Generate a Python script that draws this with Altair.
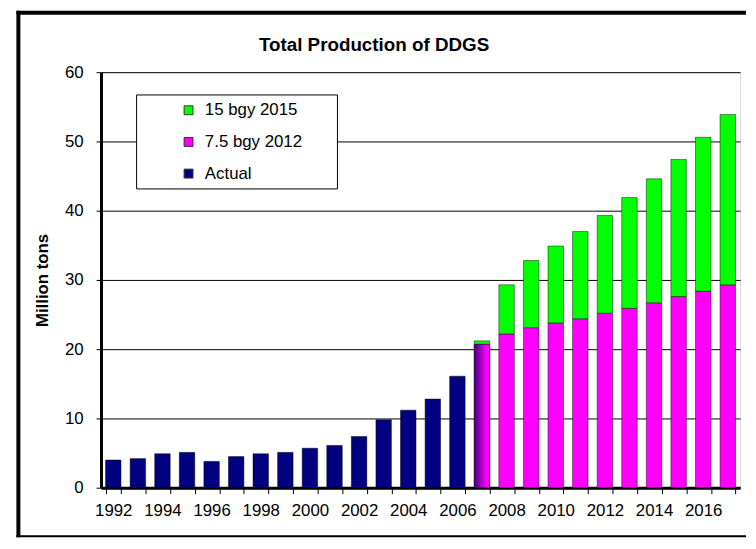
import altair as alt
import pandas as pd

# ---- data ----
actual_years = list(range(1992, 2007))
actual = [4.0, 4.2, 4.9, 5.1, 3.8, 4.5, 4.9, 5.1, 5.7, 6.1, 7.4, 9.8, 11.2, 12.8, 16.1]

proj_years = list(range(2007, 2018))
bgy75 = [20.7, 22.2, 23.1, 23.8, 24.4, 25.2, 25.9, 26.7, 27.6, 28.4, 29.3]
bgy15_total = [21.2, 29.3, 32.8, 34.9, 37.0, 39.3, 41.9, 44.6, 47.4, 50.6, 53.9]

series_names = ["15 bgy 2015", "7.5 bgy 2012", "Actual"]
series_colors = ["#00ff00", "#ff00ff", "#000080"]
y_ticks = [0, 10, 20, 30, 40, 50, 60]

FONT = "Liberation Sans"

rows = []
for yr, v in zip(actual_years, actual):
    rows.append({"year": yr, "series": "Actual", "value": v, "ord": 0})
for yr, m, t in zip(proj_years, bgy75, bgy15_total):
    rows.append({"year": yr, "series": "7.5 bgy 2012", "value": m, "ord": 0})
    rows.append({"year": yr, "series": "15 bgy 2015", "value": round(t - m, 2), "ord": 1})
df = pd.DataFrame(rows)

one = pd.DataFrame({"k": [0]})

x_enc = alt.X(
    "year:O",
    scale=alt.Scale(paddingInner=0.37, paddingOuter=0.185),
    axis=alt.Axis(
        title=None,
        labelAngle=0,
        tickBand="extent",
        labelExpr="datum.value % 2 == 0 ? datum.label : ''",
        labelOverlap=False,
        labelFontSize=17,
        labelFont=FONT,
        labelColor="black",
        labelPadding=9,
        tickSize=6,
        tickColor="black",
        tickWidth=1,
        domainColor="black",
        domainWidth=3,
        grid=False,
    ),
)

y_enc = alt.Y(
    "value:Q",
    stack="zero",
    scale=alt.Scale(domain=[0, 60]),
    axis=alt.Axis(
        values=y_ticks,
        title="Million tons",
        titleFont=FONT,
        titleFontSize=17,
        titleFontWeight="bold",
        titleColor="black",
        titleX=-59,
        titleY=210,
        titleAngle=270,
        titleAlign="center",
        titleBaseline="middle",
        labelFontSize=17,
        labelFont=FONT,
        labelColor="black",
        labelPadding=13,
        tickSize=5,
        tickColor="black",
        domainColor="black",
        domainWidth=3,
        grid=True,
        gridColor="black",
        gridWidth=1,
        gridOpacity=1,
    ),
)

bars = alt.Chart(df).mark_bar(stroke="black", strokeOpacity=0.45, strokeWidth=1).encode(
    x=x_enc,
    y=y_enc,
    color=alt.Color(
        "series:N",
        scale=alt.Scale(domain=series_names, range=series_colors),
        legend=alt.Legend(
            title=None,
            orient="none",
            legendX=80,
            legendY=30,
            padding=0,
            symbolType="square",
            symbolSize=81,
            symbolStrokeColor="#333333",
            symbolStrokeWidth=1,
            labelFont=FONT,
            labelFontSize=17,
            labelColor="black",
            labelOffset=8,
            rowPadding=14,
        ),
    ),
    order=alt.Order("ord:Q", sort="ascending"),
)

grad_df = df[(df["year"] == 2007) & (df["series"] == "7.5 bgy 2012")]
grad = alt.Chart(grad_df).mark_bar(
    color=alt.Gradient(
        gradient="linear",
        stops=[
            alt.GradientStop(offset=0, color="#400080"),
            alt.GradientStop(offset=0.8, color="#ff00ff"),
        ],
        x1=0, x2=1, y1=0, y2=0,
    ),
    stroke="black", strokeOpacity=0.45, strokeWidth=1,
).encode(x=alt.X("year:O"), y=alt.Y("value:Q"))

legend_box = alt.Chart(one).mark_rect(fill="white", stroke="black", strokeWidth=1).encode(
    x=alt.value(36), x2=alt.value(239), y=alt.value(23), y2=alt.value(118)
)

# outer chart frame (left, top, bottom edges; right edge lies outside the picture)
frame_top = alt.Chart(one).mark_rule(color="black", strokeWidth=4).encode(
    x=alt.value(-85.5), x2=alt.value(652), y=alt.value(-60)
)
frame_left = alt.Chart(one).mark_rule(color="black", strokeWidth=4).encode(
    x=alt.value(-83.5), y=alt.value(-62), y2=alt.value(470)
)
frame_bottom = alt.Chart(one).mark_rule(color="black", strokeWidth=2).encode(
    x=alt.value(-85.5), x2=alt.value(652), y=alt.value(469)
)

title = alt.Chart(one).mark_text(
    font=FONT, fontSize=19, fontWeight="bold", color="black", align="center", baseline="middle"
).encode(x=alt.value(276), y=alt.value(-27), text=alt.value("Total Production of DDGS"))

chart = alt.layer(
    bars, grad, legend_box, frame_top, frame_left, frame_bottom, title
).properties(
    width=646,
    height=420,
    padding={"left": 94, "top": 62, "right": 8, "bottom": 51},
    autosize=alt.AutoSizeParams(type="none"),
).configure_view(stroke="black", strokeWidth=3).configure(background="white")

chart.save("out.html", embed_options={"renderer": "svg", "actions": False})
